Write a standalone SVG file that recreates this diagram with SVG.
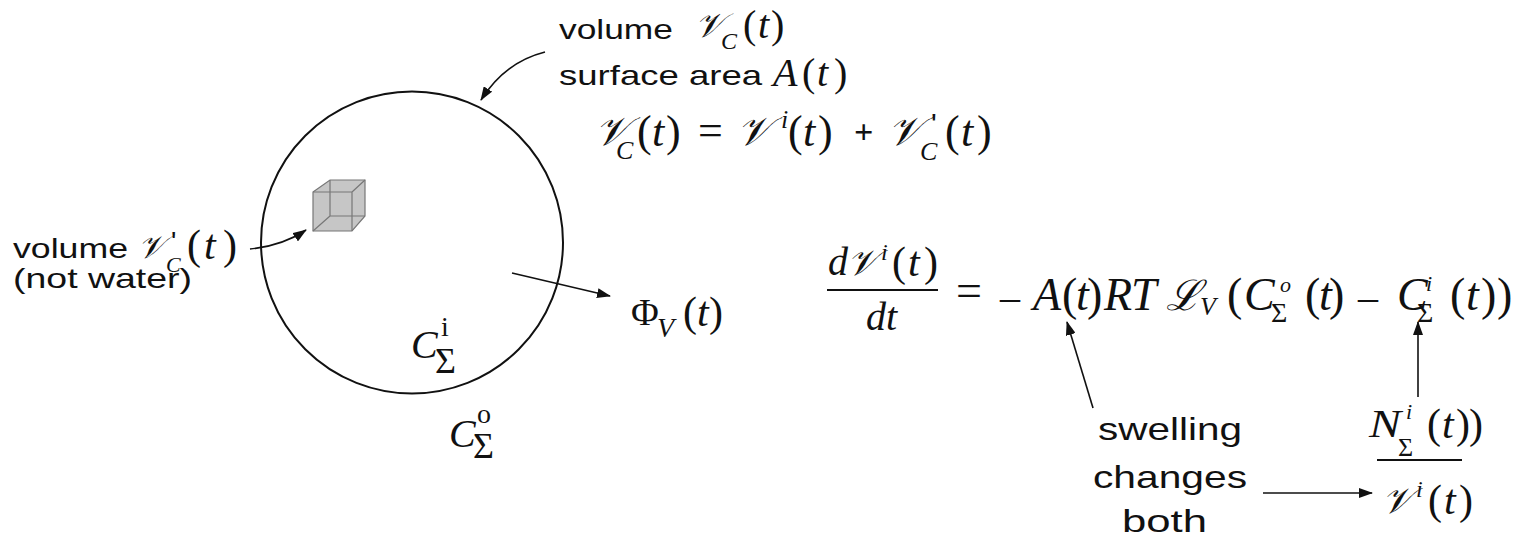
<svg xmlns="http://www.w3.org/2000/svg" width="1526" height="542" viewBox="0 0 1526 542">
<style>
.s{font-family:"Liberation Sans",Arial,sans-serif;fill:#111}
.m{font-family:"Liberation Serif","DejaVu Serif",serif;font-style:italic;fill:#111}
.u{font-family:"Liberation Serif","DejaVu Serif",serif;font-style:normal;fill:#111}
.c{font-family:"DejaVu Serif","Liberation Serif",serif;font-style:italic;fill:#111}
.ln{stroke:#111;stroke-width:1.6;fill:none}
.bar{stroke:#111;stroke-width:2}
</style>
<defs>
<marker id="ah" viewBox="0 0 14 10" refX="13" refY="5" markerWidth="14" markerHeight="10" markerUnits="userSpaceOnUse" orient="auto">
<path d="M0,0 L14,5 L0,10 Z" fill="#111"/>
</marker>
</defs>
<rect width="1526" height="542" fill="#fff"/>

<g id="cell">
<circle cx="412" cy="242.5" r="151" fill="none" stroke="#111" stroke-width="2"/>
</g>

<g id="cube">
<path d="M313,192 L330,180 L365,180 L365,216 L352,231 L313,231 Z" fill="#c6c6c6" stroke="#777" stroke-width="1.2"/>
<path d="M313,192 H352 V231 M352,192 L365,180 M330,180 V216 H365 M330,216 L313,231" fill="none" stroke="#777" stroke-width="1.2"/>
</g>

<g id="top-label">
<text class="s" x="559" y="39" font-size="28" textLength="114" lengthAdjust="spacingAndGlyphs">volume</text>
<text class="c" x="695" y="37" font-size="34">𝒱</text>
<text class="m" x="721" y="49" font-size="24">C</text>
<text class="u" y="38" font-size="40"><tspan x="743">(</tspan><tspan class="m" x="758">t</tspan><tspan x="771">)</tspan></text>
<text class="s" x="559" y="85" font-size="28" textLength="203" lengthAdjust="spacingAndGlyphs">surface area</text>
<text class="u" y="86" font-size="40"><tspan class="m" x="773">A</tspan><tspan x="802">(</tspan><tspan class="m" x="817">t</tspan><tspan x="834">)</tspan></text>
</g>

<g id="volume-sum">
<text class="c" x="595" y="145" font-size="40">𝒱</text>
<text class="m" x="616" y="159" font-size="26">C</text>
<text class="u" y="146" font-size="44"><tspan x="637">(</tspan><tspan class="m" x="652">t</tspan><tspan x="666">)</tspan></text>
<text class="u" x="698" y="145" font-size="44">=</text>
<text class="c" x="737" y="145" font-size="40">𝒱</text>
<text class="m" x="781" y="128" font-size="26">i</text>
<text class="u" y="146" font-size="44"><tspan x="788">(</tspan><tspan class="m" x="803">t</tspan><tspan x="818">)</tspan></text>
<text class="u" x="854" y="143" font-size="34" font-weight="bold">+</text>
<text class="c" x="888" y="145" font-size="40">𝒱</text>
<text class="s" x="931" y="134" font-size="30">'</text>
<text class="m" x="920" y="160" font-size="26">C</text>
<text class="u" y="146" font-size="44"><tspan x="945">(</tspan><tspan class="m" x="961">t</tspan><tspan x="977">)</tspan></text>
</g>

<g id="left-label">
<text class="s" x="13" y="258" font-size="28" textLength="115" lengthAdjust="spacingAndGlyphs">volume</text>
<text class="c" x="138" y="258" font-size="32">𝒱</text>
<text class="s" x="171" y="251" font-size="28">'</text>
<text class="m" x="166" y="272" font-size="22">C</text>
<text class="u" y="259" font-size="42"><tspan x="187">(</tspan><tspan class="m" x="204">t</tspan><tspan x="223">)</tspan></text>
<text class="s" x="13" y="288" font-size="28" textLength="179" lengthAdjust="spacingAndGlyphs">(not water)</text>
</g>

<g id="c-inside">
<text class="m" x="411" y="358" font-size="40">C</text>
<text class="u" x="441" y="336" font-size="28">i</text>
<text class="u" x="435" y="373" font-size="36">Σ</text>
</g>

<g id="c-outside">
<text class="m" x="449" y="447" font-size="40">C</text>
<text class="u" x="477" y="423" font-size="28">o</text>
<text class="u" x="473" y="458" font-size="36">Σ</text>
</g>

<g id="flux">
<text class="u" x="631" y="325" font-size="38">Φ</text>
<text class="m" x="657" y="337" font-size="28">V</text>
<text class="u" y="326" font-size="42"><tspan x="683">(</tspan><tspan class="m" x="697">t</tspan><tspan x="709">)</tspan></text>
</g>

<g id="rate-equation">
<text class="m" x="828" y="275" font-size="40">d</text>
<text class="c" x="847" y="275" font-size="36">𝒱</text>
<text class="m" x="881" y="260" font-size="24">i</text>
<text class="u" y="276" font-size="42"><tspan x="892">(</tspan><tspan class="m" x="908">t</tspan><tspan x="924">)</tspan></text>
<line class="bar" x1="827" y1="290" x2="938" y2="290"/>
<text class="m" x="866" y="330" font-size="40">dt</text>
<text class="u" x="956" y="306" font-size="46">=</text>
<text class="u" x="1000" y="310" font-size="40">–</text>
<text class="u" y="310" font-size="46"><tspan class="m" x="1033">A</tspan><tspan x="1062">(</tspan><tspan class="m" x="1076">t</tspan><tspan x="1087">)</tspan><tspan class="m" x="1104">R</tspan><tspan class="m" x="1131">T</tspan></text>
<text class="c" x="1166" y="310" font-size="42">ℒ</text>
<text class="m" x="1200" y="315" font-size="26">V</text>
<text class="u" x="1227" y="310" font-size="46">(</text>
<text class="m" x="1244" y="310" font-size="46">C</text>
<text class="m" x="1280" y="292" font-size="22">o</text>
<text class="u" x="1271" y="322" font-size="28">Σ</text>
<text class="u" y="310" font-size="46"><tspan x="1305">(</tspan><tspan class="m" x="1319">t</tspan><tspan x="1329">)</tspan></text>
<text class="u" x="1358" y="310" font-size="40">–</text>
<text class="m" x="1397" y="310" font-size="46">C</text>
<text class="m" x="1426" y="291" font-size="22">i</text>
<text class="u" x="1417" y="322" font-size="28">Σ</text>
<text class="u" y="310" font-size="46"><tspan x="1450">(</tspan><tspan class="m" x="1466">t</tspan><tspan x="1481">)</tspan><tspan x="1497">)</tspan></text>
</g>

<g id="concentration">
<text class="m" x="1369" y="437" font-size="40" textLength="32" lengthAdjust="spacingAndGlyphs">N</text>
<text class="m" x="1406" y="419" font-size="22">i</text>
<text class="u" x="1398" y="456" font-size="26">Σ</text>
<text class="u" y="438" font-size="42"><tspan x="1427">(</tspan><tspan class="m" x="1442">t</tspan><tspan x="1456">)</tspan><tspan x="1469">)</tspan></text>
<line class="bar" x1="1377" y1="460" x2="1462" y2="460"/>
<text class="c" x="1382" y="513" font-size="36">𝒱</text>
<text class="m" x="1416" y="497" font-size="24">i</text>
<text class="u" y="514" font-size="42"><tspan x="1428">(</tspan><tspan class="m" x="1444">t</tspan><tspan x="1459">)</tspan></text>
</g>

<g id="swelling-label">
<text class="s" x="1098" y="440" font-size="32" textLength="144" lengthAdjust="spacingAndGlyphs">swelling</text>
<text class="s" x="1093" y="488" font-size="32" textLength="154" lengthAdjust="spacingAndGlyphs">changes</text>
<text class="s" x="1122" y="532" font-size="32" textLength="85" lengthAdjust="spacingAndGlyphs">both</text>
</g>

<g id="connectors">
<path class="ln" d="M545,52 Q505,62 481,100" marker-end="url(#ah)"/>
<path class="ln" d="M250,249 Q282,246 306,230" marker-end="url(#ah)"/>
<path class="ln" d="M512,273 L610,296" marker-end="url(#ah)"/>
<path class="ln" d="M1093,408 L1067,322" marker-end="url(#ah)"/>
<path class="ln" d="M1418,397 L1418,322" marker-end="url(#ah)"/>
<path class="ln" d="M1263,493 L1372,493" marker-end="url(#ah)"/>
</g>
</svg>
